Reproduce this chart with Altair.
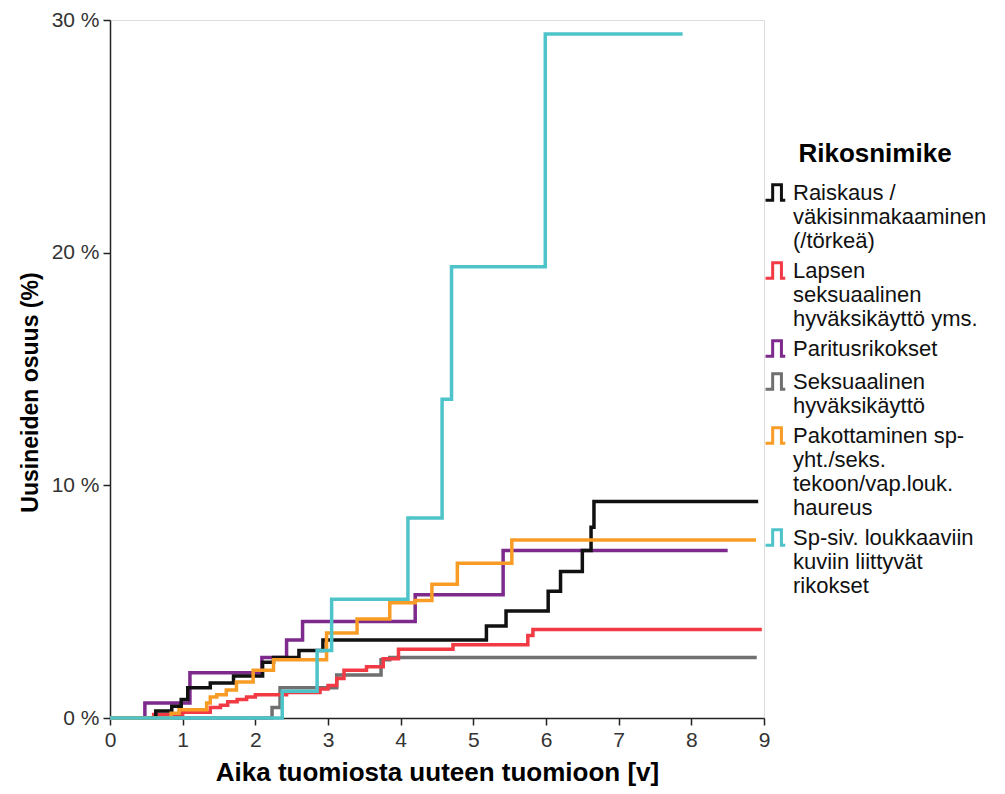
import altair as alt
import pandas as pd

# ---- data ----
series_names = [
    "Raiskaus /\nväkisinmakaaminen\n(/törkeä)",
    "Lapsen\nseksuaalinen\nhyväksikäyttö yms.",
    "Paritusrikokset",
    "Seksuaalinen\nhyväksikäyttö",
    "Pakottaminen sp-\nyht./seks.\ntekoon/vap.louk.\nhaureus",
    "Sp-siv. loukkaaviin\nkuviin liittyvät\nrikokset",
]
series_colors = ["#111111", "#f23a44", "#7d2a8c", "#707070", "#f99c25", "#4ec3c9"]

black_t = [0, 0.63, 0.85, 0.98, 1.07, 1.38, 1.70, 2.10, 2.25, 2.60, 2.93, 5.18, 5.45, 6.03, 6.20, 6.50, 6.62, 6.66, 8.92]
black_p = [0, 0.3, 0.5, 0.8, 1.3, 1.5, 1.8, 2.4, 2.6, 2.9, 3.35, 3.95, 4.6, 5.45, 6.3, 7.2, 8.2, 9.3, 9.3]

red_t = [0, 0.6, 1.0, 1.38, 1.52, 1.62, 1.75, 1.88, 2.0, 2.43, 2.89, 3.0, 3.12, 3.22, 3.53, 3.76, 3.97, 4.72, 5.75, 5.82, 8.97]
red_p = [0, 0.15, 0.25, 0.45, 0.55, 0.7, 0.8, 0.9, 1.0, 1.1, 1.25, 1.4, 1.7, 2.05, 2.2, 2.55, 2.95, 3.15, 3.55, 3.8, 3.8]

purple_t = [0, 0.48, 1.1, 2.09, 2.43, 2.65, 4.2, 5.41, 8.5]
purple_p = [0, 0.65, 1.95, 2.6, 3.35, 4.15, 5.3, 7.2, 7.2]

gray_t = [0, 2.23, 2.34, 3.12, 3.73, 3.85, 8.9]
gray_p = [0, 0.45, 1.3, 1.85, 2.5, 2.6, 2.6]

orange_t = [0, 0.84, 0.95, 1.33, 1.38, 1.47, 1.6, 1.74, 1.97, 2.25, 2.98, 3.4, 3.85, 4.2, 4.43, 4.78, 5.53, 8.89]
orange_p = [0, 0.2, 0.35, 0.65, 0.9, 1.0, 1.2, 1.55, 2.05, 2.5, 3.65, 4.25, 4.95, 5.05, 5.75, 6.65, 7.65, 7.65]

cyan_t = [0, 2.37, 2.85, 3.05, 4.1, 4.57, 4.70, 5.99, 7.88]
cyan_p = [0, 1.15, 2.9, 5.1, 8.6, 13.7, 19.4, 29.4, 29.4]

x_ticks = [0, 1, 2, 3, 4, 5, 6, 7, 8, 9]
y_ticks = [0, 10, 20, 30]

# draw order (bottom to top)
draw = [
    (series_names[2], purple_t, purple_p),
    (series_names[3], gray_t, gray_p),
    (series_names[1], red_t, red_p),
    (series_names[0], black_t, black_p),
    (series_names[4], orange_t, orange_p),
    (series_names[5], cyan_t, cyan_p),
]
rows = []
for name, ts, ps in draw:
    for t, p in zip(ts, ps):
        rows.append({"series": name, "t": t, "p": p})
df = pd.DataFrame(rows)

FONT = "Liberation Sans"

chart = alt.Chart(df).mark_line(interpolate="step-after", strokeWidth=3.5).encode(
    x=alt.X("t:Q",
            scale=alt.Scale(domain=[0, 9], nice=False, zero=False),
            axis=alt.Axis(values=x_ticks, title="Aika tuomiosta uuteen tuomioon [v]",
                          titleFontSize=26, titleFontWeight="bold", titleFont=FONT, titleColor="#000",
                          titlePadding=9,
                          labelFontSize=21, labelFont=FONT, labelColor="#333", labelPadding=4,
                          tickSize=7, tickColor="#222", tickWidth=1.5, domainColor="#222",
                          domainWidth=1.5, grid=False, labelFlush=False)),
    y=alt.Y("p:Q",
            scale=alt.Scale(domain=[0, 30], nice=False),
            axis=alt.Axis(values=y_ticks, labelExpr="datum.value + ' %'", title="Uusineiden osuus (%)",
                          titleFontSize=23, titleFontWeight="bold", titleFont=FONT, titleColor="#000",
                          titlePadding=9, titleY=372,
                          labelFontSize=21, labelFont=FONT, labelColor="#333", labelPadding=4,
                          tickSize=7, tickColor="#222", tickWidth=1.5, domainColor="#222",
                          domainWidth=1.5, grid=False, labelFlush=False)),
    color=alt.Color("series:N",
                    scale=alt.Scale(domain=series_names, range=series_colors),
                    legend=alt.Legend(title="Rikosnimike", orient="none", legendX=654, legendY=121,
                                      titleFontSize=26, titleFontWeight="bold", titleFont=FONT,
                                      titleColor="#000", titleAnchor="middle", titlePadding=13,
                                      labelFontSize=22, labelFont=FONT, labelColor="#111",
                                      labelExpr="split(datum.label, '\\n')", labelLimit=400,
                                      labelOffset=4,
                                      symbolType="M-1,0.7H-0.35V-0.7H0.45V0.7H0.8",
                                      symbolSize=480, symbolStrokeWidth=3,
                                      rowPadding=4)),
).properties(
    width=654, height=698,
    autosize=alt.AutoSizeParams(type="none"),
    padding={"left": 102, "top": 12, "right": 230, "bottom": 72},
).configure_view(
    stroke="#555", strokeWidth=1.5
).configure(background="white")

chart.save("out.html", embed_options={"renderer": "svg", "actions": False})
